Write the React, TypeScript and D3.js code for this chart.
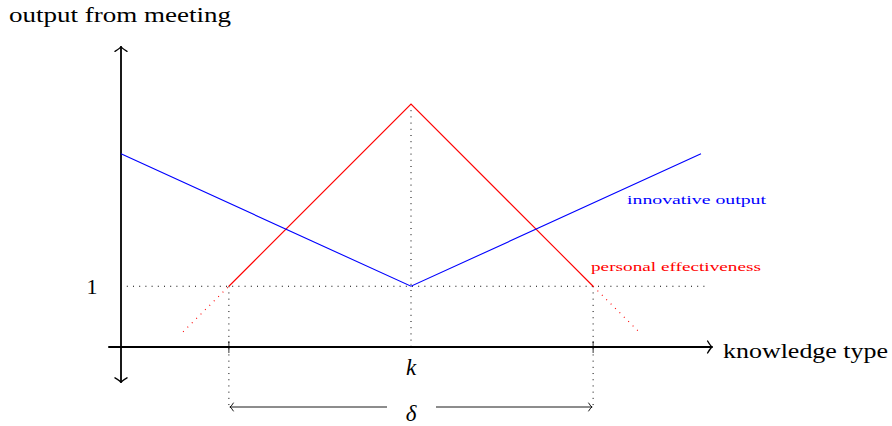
import * as d3 from "d3";

// knowledge type on x (k = 0), output on y (1 = baseline level)
const personalX = [-3.14, 0, 3.14];
const personalY = [1, 4, 1];
const personalTailX = [[-3.93, -3.14], [3.14, 3.93]];
const personalTailY = [[0.25, 1], [1, 0.25]];
const innovativeX = [-5, 0, 5];
const innovativeY = [3.18, 1, 3.18];
const delta = 3.14;
const labels = ["output from meeting", "knowledge type", "innovative output", "personal effectiveness"];

const font = "'Liberation Serif', 'Times New Roman', serif";

const Arrow = ({ x, y, dir, size = 6, depth = 5, w = 1.4 }) => {
  // open V arrow head, tip at (x,y), pointing dir (radians)
  const c = Math.cos(dir), s = Math.sin(dir);
  const p = (dx, dy) => [x + dx * c - dy * s, y + dx * s + dy * c];
  const a = p(-depth, -size), b = p(-depth, size);
  return (
    <path
      d={`M${a[0]},${a[1]} Q${x - depth * 0.3 * c},${y - depth * 0.3 * s} ${x},${y} Q${x - depth * 0.3 * c},${y - depth * 0.3 * s} ${b[0]},${b[1]}`}
      fill="none" stroke="#000" strokeWidth={w} strokeLinecap="round"
    />
  );
};

export default function App() {
  const W = 892, H = 426;
  const x = d3.scaleLinear().domain([-5, 5]).range([121, 701]);
  const y = d3.scaleLinear().domain([0, 4]).range([347, 104]);
  const line = d3.line<[number, number]>().x(d => x(d[0])).y(d => y(d[1]));
  const zip = (a, b) => a.map((v, i) => [v, b[i]] as [number, number]);

  const x0 = x(0), y0 = y(0);
  const dotted = { stroke: "#000", strokeWidth: 1, strokeDasharray: "1,5.2", fill: "none" };
  const arrowY = 407;

  return (
    <svg width={W} height={H} style={{ position: "absolute", left: 0, top: 0, background: "#fff" }}>
      {/* level 1 guide */}
      <line x1={x(-4.9)} x2={x(5.12)} y1={y(1)} y2={y(1)} {...dotted} />
      {/* vertical guides */}
      <line x1={x0} x2={x0} y1={y(4)} y2={y0} {...dotted} />
      <line x1={x(-delta)} x2={x(-delta)} y1={y(1)} y2={arrowY} {...dotted} />
      <line x1={x(delta)} x2={x(delta)} y1={y(1)} y2={arrowY} {...dotted} />

      {/* axes */}
      <line x1={x(-5.22)} x2={x(5.2)} y1={y0} y2={y0} stroke="#000" strokeWidth={1.8} />
      <line x1={x(-5)} x2={x(-5)} y1={y(-0.59)} y2={y(4.95)} stroke="#000" strokeWidth={1.8} />
      <Arrow x={x(5.2)} y={y0} dir={0} />
      <Arrow x={x(-5)} y={y(4.95)} dir={-Math.PI / 2} />
      <Arrow x={x(-5)} y={y(-0.59)} dir={Math.PI / 2} />
      {[-delta, delta].map(d => (
        <line key={d} x1={x(d)} x2={x(d)} y1={y0 - 6} y2={y0 + 6} stroke="#000" strokeWidth={0.8} />
      ))}

      {/* curves */}
      {personalTailX.map((xs, i) => (
        <path key={i} d={line(zip(xs, personalTailY[i])) || ""} stroke="#ff0000" strokeWidth={1.1} strokeDasharray="1,5.2" fill="none" />
      ))}
      <path d={line(zip(personalX, personalY)) || ""} stroke="#ff0000" strokeWidth={1.15} fill="none" />
      <path d={line(zip(innovativeX, innovativeY)) || ""} stroke="#0000ff" strokeWidth={1.1} fill="none" />

      {/* delta arrow */}
      <line x1={x(-delta) + 1} x2={387} y1={arrowY} y2={arrowY} stroke="#000" strokeWidth={0.9} />
      <line x1={436} x2={x(delta) - 1} y1={arrowY} y2={arrowY} stroke="#000" strokeWidth={0.9} />
      <Arrow x={x(-delta) + 1} y={arrowY} dir={Math.PI} size={4} depth={3.5} w={0.9} />
      <Arrow x={x(delta) - 1} y={arrowY} dir={0} size={4} depth={3.5} w={0.9} />

      {/* text */}
      <text x={9} y={22} fontFamily={font} fontSize={21} textLength={222} lengthAdjust="spacingAndGlyphs">{labels[0]}</text>
      <text x={723} y={358} fontFamily={font} fontSize={21} textLength={165} lengthAdjust="spacingAndGlyphs">{labels[1]}</text>
      <text x={627} y={204} fontFamily={font} fontSize={11.5} fill="#0000ff" textLength={139} lengthAdjust="spacingAndGlyphs">{labels[2]}</text>
      <text x={591} y={271} fontFamily={font} fontSize={11.5} fill="#ff0000" textLength={170} lengthAdjust="spacingAndGlyphs">{labels[3]}</text>
      <text x={92} y={294} fontFamily={font} fontSize={22} textAnchor="middle">1</text>
      <text x={x0} y={375} fontFamily={font} fontSize={23} fontStyle="italic" textAnchor="middle">k</text>
      <text x={x0} y={421} fontFamily={font} fontSize={23} fontStyle="italic" textAnchor="middle">δ</text>
    </svg>
  );
}
